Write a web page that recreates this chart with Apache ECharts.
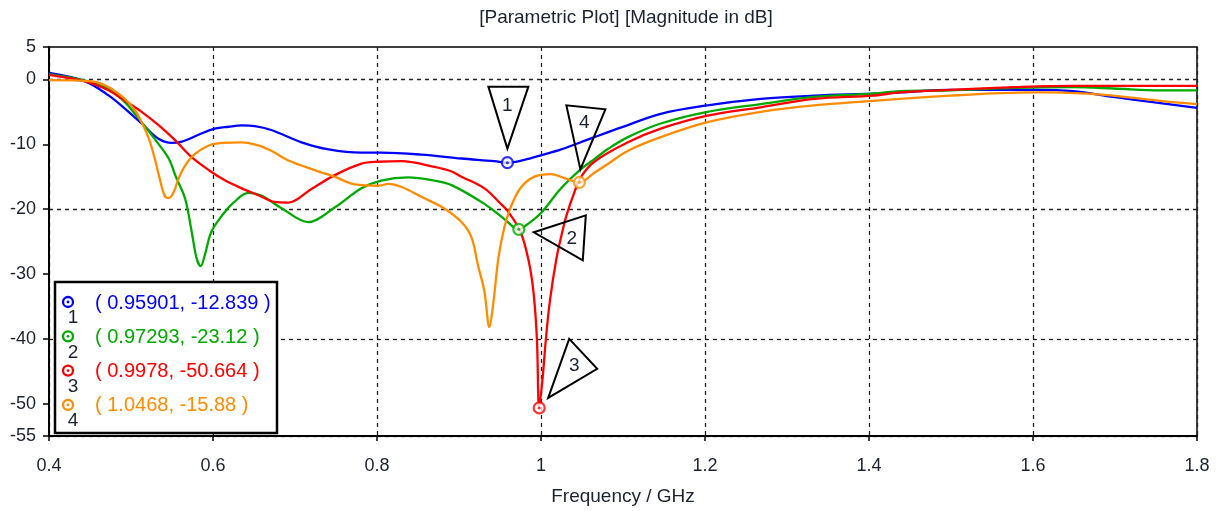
<!DOCTYPE html>
<html><head><meta charset="utf-8">
<script src="https://cdn.jsdelivr.net/npm/echarts@6/dist/echarts.min.js"></script>
<style>html,body{margin:0;padding:0;background:#fff}#c{width:1218px;height:511px}</style>
</head><body><div id="c"></div>
<script>
const titleText = '[Parametric Plot] [Magnitude in dB]';
const xAxisName = 'Frequency / GHz';
const yTickLabels = [5, 0, -10, -20, -30, -40, -50, -55];
const seriesNames = ['1', '2', '3', '4'];
const seriesColors = ['#0000ff', '#00aa00', '#ff0000', '#ff8c00'];

const s1Freq = [0.4,0.444,0.473,0.4925,0.513,0.534,0.55,0.562,0.583,0.602,0.619,0.635,0.651,0.671,0.708,0.741,0.781,0.805,0.854,0.903,0.943,0.95901,0.98,1.0,1.0245,1.061,1.098,1.146,1.203,1.268,1.333,1.405,1.438,1.499,1.6,1.649,1.698,1.746,1.8];
const s1Db   = [1.0,-0.3,-2.5,-4.5,-6.8,-9.2,-9.8,-9.6,-8.5,-7.6,-7.3,-7.1,-7.2,-7.8,-9.7,-10.8,-11.3,-11.3,-11.6,-12.2,-12.6,-12.839,-12.4,-11.7,-10.8,-9.1,-7.4,-5.3,-4.0,-3.0,-2.5,-2.2,-2.0,-1.6,-1.6,-1.8,-2.7,-3.5,-4.4];

const s2Freq = [0.4,0.444,0.473,0.4925,0.513,0.529,0.546,0.554,0.566,0.574,0.58,0.585,0.59,0.598,0.611,0.626,0.643,0.659,0.684,0.716,0.748,0.781,0.805,0.838,0.87,0.891,0.931,0.955,0.97293,0.985,1.0,1.0245,1.049,1.065,1.082,1.106,1.146,1.203,1.268,1.333,1.405,1.438,1.499,1.578,1.649,1.698,1.755,1.8];
const s2Db   = [0.8,-0.2,-1.5,-3.5,-6.6,-9.2,-12.2,-14.8,-18.4,-23.5,-27.6,-28.8,-27.1,-23.5,-21.0,-18.9,-17.5,-17.9,-19.9,-22.0,-19.8,-16.8,-15.6,-15.1,-15.6,-16.3,-19.2,-21.5,-23.12,-22.2,-20.6,-16.8,-13.8,-12.3,-10.7,-8.9,-6.8,-5.0,-3.8,-2.7,-2.2,-1.8,-1.7,-1.3,-1.2,-1.4,-1.7,-1.7];

const s3Freq = [0.4,0.444,0.473,0.4925,0.513,0.534,0.554,0.574,0.595,0.615,0.635,0.656,0.675,0.692,0.72,0.748,0.781,0.802,0.83,0.87,0.891,0.903,0.931,0.951,0.96,0.975,0.985,0.991,0.995,0.9978,1.002,1.006,1.011,1.019,1.026,1.031,1.041,1.049,1.065,1.106,1.146,1.203,1.268,1.333,1.405,1.438,1.499,1.578,1.649,1.8];
const s3Db   = [0.7,-0.3,-1.7,-3.3,-5.0,-7.1,-9.4,-12.0,-14.0,-15.6,-16.8,-17.9,-18.9,-19.0,-16.9,-14.8,-13.0,-12.7,-12.6,-13.5,-14.2,-15.0,-16.8,-19.2,-20.4,-23.5,-28.0,-33.0,-40.0,-50.664,-46.0,-40.0,-34.0,-27.5,-23.5,-21.0,-17.3,-15.0,-12.7,-9.7,-7.6,-5.6,-4.3,-3.0,-2.5,-2.0,-1.6,-1.2,-1.0,-1.0];

const s4Freq = [0.4,0.452,0.473,0.4925,0.505,0.513,0.522,0.529,0.535,0.541,0.546,0.552,0.558,0.566,0.578,0.595,0.611,0.635,0.656,0.671,0.692,0.724,0.748,0.773,0.802,0.814,0.83,0.854,0.882,0.903,0.915,0.923,0.931,0.937,0.942,0.948,0.955,0.964,0.976,0.992,1.012,1.028,1.0468,1.065,1.082,1.106,1.146,1.203,1.268,1.333,1.405,1.438,1.499,1.56,1.609,1.666,1.706,1.755,1.8];
const s4Db   = [-0.1,-0.3,-1.2,-3.0,-4.8,-6.6,-9.2,-12.2,-15.3,-17.9,-18.3,-17.4,-15.3,-13.3,-11.5,-10.2,-9.8,-9.7,-10.2,-11.0,-12.5,-14.0,-15.0,-16.2,-16.4,-16.1,-16.6,-18.1,-19.9,-22.0,-24.3,-28.6,-32.7,-38.2,-34.3,-27.6,-23.0,-19.4,-16.6,-15.0,-14.6,-15.2,-15.88,-14.4,-13.0,-11.0,-8.9,-6.6,-5.0,-4.0,-3.3,-3.0,-2.5,-2.1,-2.0,-2.2,-2.6,-3.3,-3.8];

const markerFreq = [0.95901, 0.97293, 0.9978, 1.0468];
const markerDb = [-12.839, -23.12, -50.664, -15.88];

const FONT = '"Liberation Sans", Arial, sans-serif';
const TXT = '#1c2230';

const curves = [[s1Freq, s1Db], [s2Freq, s2Db], [s3Freq, s3Db], [s4Freq, s4Db]];
const lineSeries = curves.map((c, i) => ({
  name: seriesNames[i], type: 'line', showSymbol: false, smooth: 0.35,
  data: c[0].map((f, j) => [f, c[1][j]]),
  lineStyle: {color: seriesColors[i], width: 2.3}, itemStyle: {color: seriesColors[i]},
  z: 3 + i, silent: true
}));

const markerRing = {
  type: 'scatter', symbol: 'circle', symbolSize: 11, z: 10, silent: true,
  data: markerFreq.map((f, i) => ({value: [f, markerDb[i]], itemStyle: {color: '#fff', borderColor: seriesColors[i], borderWidth: 2.2}}))
};
const markerDot = {
  type: 'scatter', symbol: 'circle', symbolSize: 3, z: 11, silent: true,
  data: markerFreq.map((f, i) => ({value: [f, markerDb[i]], itemStyle: {color: seriesColors[i]}}))
};

const option = {
  animation: false,
  backgroundColor: '#fff',
  grid: {left: 49, right: 21, top: 47, bottom: 74, show: true, borderColor: '#000', borderWidth: 1.5, backgroundColor: '#fff'},
  xAxis: {
    type: 'value', min: 0.4, max: 1.8, interval: 0.2,
    name: xAxisName, nameLocation: 'middle', nameGap: 51,
    nameTextStyle: {fontFamily: FONT, fontSize: 19, color: TXT},
    axisLine: {show: true, onZero: false, lineStyle: {color: '#000', width: 2}},
    axisTick: {show: true, length: 5, lineStyle: {color: '#000', width: 1.5}},
    axisLabel: {fontFamily: FONT, fontSize: 18, color: TXT, margin: 21,
      formatter: v => String(parseFloat(v.toFixed(1)))},
    splitLine: {show: true, lineStyle: {color: '#222', width: 1.3, type: [4, 4]}}
  },
  yAxis: {
    type: 'value', min: -55, max: 5, interval: 5,
    axisLine: {show: true, onZero: false, lineStyle: {color: '#000', width: 2}},
    axisTick: {show: true, length: 6, customValues: yTickLabels, lineStyle: {color: '#000', width: 1.5}},
    axisLabel: {fontFamily: FONT, fontSize: 18, color: TXT, margin: 13, customValues: yTickLabels,
      formatter: v => (yTickLabels.indexOf(Math.round(v)) >= 0 ? String(Math.round(v)) : '')},
    splitLine: {show: true, lineStyle: {color: ['rgba(0,0,0,0)', '#222'], width: 1.3, type: [4, 4]}}
  },
  series: [...lineSeries, markerRing, markerDot]
};

const chart = echarts.init(document.getElementById('c'), null, {renderer: 'canvas'});
chart.setOption(option);

const pts = markerFreq.map((f, i) => chart.convertToPixel({gridIndex: 0}, [f, markerDb[i]]));
const triShapes = [
  {pts: [[0, -14], [-19, -76], [21, -76]], lab: [0, -57]},
  {pts: [[15, 3], [67, -14], [64, 31]], lab: [53, 9]},
  {pts: [[9, -10], [30, -69], [58, -39]], lab: [35, -42]},
  {pts: [[1, -13], [-13, -77], [26, -73]], lab: [5, -60]}
];
const graphics = [];
graphics.push({type: 'text', x: 626, y: 18, z: 50,
  style: {text: titleText, fontFamily: FONT, fontSize: 19, fill: TXT, textAlign: 'center', textVerticalAlign: 'middle'}});
triShapes.forEach((t, i) => {
  const p = pts[i];
  graphics.push({type: 'polygon', z: 40, shape: {points: t.pts.map(q => [p[0] + q[0], p[1] + q[1]])},
    style: {fill: null, stroke: '#000', lineWidth: 2}});
  graphics.push({type: 'text', z: 41, x: p[0] + t.lab[0], y: p[1] + t.lab[1],
    style: {text: seriesNames[i], fontFamily: FONT, fontSize: 19, fill: TXT, textAlign: 'center', textVerticalAlign: 'middle'}});
});
// legend box
graphics.push({type: 'rect', z: 60, shape: {x: 55, y: 282, width: 222, height: 151},
  style: {fill: '#fff', stroke: '#000', lineWidth: 2.5}});
markerFreq.forEach((f, i) => {
  const ry = 303 + i * 34.3;
  graphics.push({type: 'circle', z: 61, shape: {cx: 68, cy: ry - 1, r: 5}, style: {fill: '#fff', stroke: seriesColors[i], lineWidth: 2.3}});
  graphics.push({type: 'circle', z: 62, shape: {cx: 68, cy: ry - 1, r: 1.4}, style: {fill: seriesColors[i]}});
  graphics.push({type: 'text', z: 62, x: 73, y: ry + 15,
    style: {text: seriesNames[i], fontFamily: FONT, fontSize: 19, fill: TXT, textAlign: 'center', textVerticalAlign: 'middle'}});
  graphics.push({type: 'text', z: 62, x: 95, y: ry,
    style: {text: '( ' + String(f) + ', ' + String(markerDb[i]) + ' )', fontFamily: FONT, fontSize: 20, fill: seriesColors[i], textAlign: 'left', textVerticalAlign: 'middle'}});
});
chart.setOption({graphic: graphics});
</script>
</body></html>
